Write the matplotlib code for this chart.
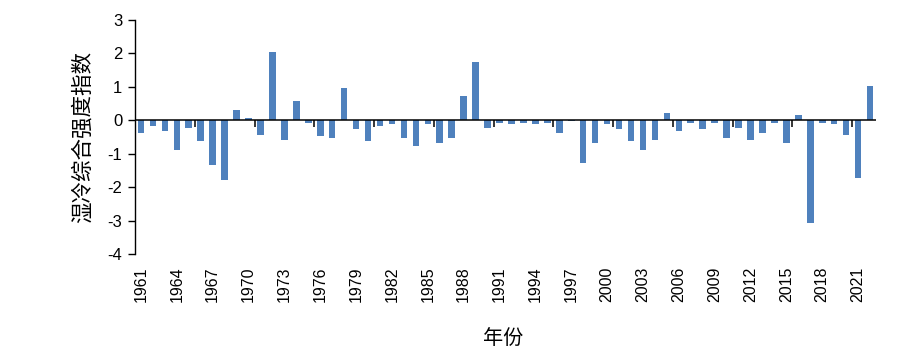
import matplotlib
matplotlib.use('Agg')
import matplotlib.pyplot as plt

plt.rcParams['font.family'] = ['Liberation Sans', 'Noto Sans CJK SC', 'DejaVu Sans']
plt.rcParams['axes.unicode_minus'] = False

# Data
years = list(range(1961, 2023))
index_values = [
    -0.38, -0.18, -0.33, -0.88, -0.22, -0.63, -1.34, -1.79, 0.32, 0.07,
    -0.43, 2.04, -0.58, 0.58, -0.07, -0.48, -0.53, 0.98, -0.27, -0.63,
    -0.18, -0.12, -0.53, -0.78, -0.12, -0.68, -0.53, 0.73, 1.74, -0.23,
    -0.08, -0.12, -0.07, -0.12, -0.07, -0.38, -0.02, -1.27, -0.68, -0.12,
    -0.27, -0.63, -0.88, -0.58, 0.22, -0.33, -0.07, -0.27, -0.07, -0.53,
    -0.22, -0.58, -0.38, -0.07, -0.68, 0.17, -3.06, -0.07, -0.12, -0.43,
    -1.74, 1.02,
]
y_ticks = [3, 2, 1, 0, -1, -2, -3, -4]

fig = plt.figure(figsize=(9.09, 3.57), dpi=100)
ax = fig.add_axes([135 / 909, 1 - 254 / 357, 741 / 909, 234 / 357])

pos = list(range(len(years)))
ax.bar(pos, index_values, width=0.55, color='#4F81BD', zorder=2)

ax.set_xlim(-0.5, len(years) - 0.5)
ax.set_ylim(-4, 3)

# category axis at zero, tick marks every 5 categories
ax.axhline(0, color='black', lw=1.1, zorder=3)
ax.vlines([b - 0.5 for b in range(5, len(years), 5)], -0.2, 0,
          color='black', lw=1.1, zorder=3)

ax.set_yticks(y_ticks)
ax.set_yticklabels([str(t) for t in y_ticks], fontsize=12)
ax.tick_params(axis='y', direction='out', length=5, width=1, pad=4)

ax.set_xticks(pos[::3])
ax.set_xticklabels([str(y) for y in years[::3]], rotation=90, fontsize=11.5)
ax.tick_params(axis='x', length=0, pad=9)

for s in ['top', 'right', 'bottom']:
    ax.spines[s].set_visible(False)
ax.spines['left'].set_linewidth(1)

ax.set_ylabel('湿冷综合强度指数', fontsize=15.5, family=['Noto Sans CJK SC', 'DejaVu Sans'])
ax.yaxis.set_label_coords(-0.070, 0.5)
ax.yaxis.label.set_va('center')

ax.set_xlabel('年份', fontsize=14.5, family=['Noto Sans CJK SC', 'DejaVu Sans'])
ax.xaxis.set_label_coords(0.497, -0.359)
ax.xaxis.label.set_va('center')

fig.savefig('out.png', dpi=100, facecolor='white')
